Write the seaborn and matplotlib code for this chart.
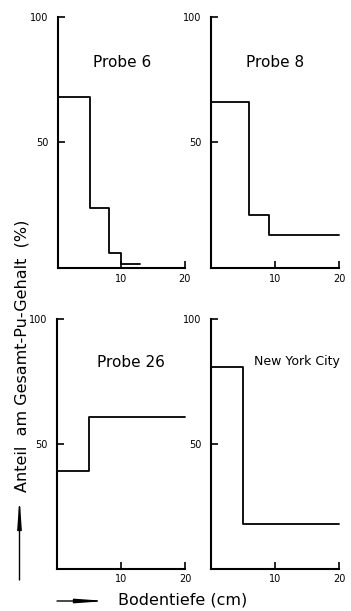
import matplotlib
matplotlib.use("Agg")
import matplotlib.pyplot as plt
import seaborn as sns
import pandas as pd

# --- Daten: Stufenprofile (Tiefe in cm, Anteil in %) ---
probe6_edges = [0, 5, 8, 10, 13]
probe6_vals = [68, 24, 6, 1.5]

probe8_edges = [0, 6, 9, 20]
probe8_vals = [66, 21, 13]

probe26_edges = [0, 5, 20]
probe26_vals = [39, 61]

nyc_edges = [0, 5, 20]
nyc_vals = [81, 18]

panel_names = ["Probe 6", "Probe 8", "Probe 26", "New York City"]
y_ticks = [50, 100]
x_ticks = [10, 20]

sns.set_style("ticks")
plt.rcParams['font.family'] = ['DejaVu Sans']
plt.rcParams['text.color'] = 'black'
plt.rcParams['xtick.color'] = 'black'
plt.rcParams['ytick.color'] = 'black'
plt.rcParams['axes.edgecolor'] = 'black'

fig = plt.figure(figsize=(3.51, 6.11), dpi=100)

# Achsenpositionen (figure fraction)
positions = [
    [0.165, 0.5614, 0.3618, 0.4108],
    [0.6011, 0.5614, 0.3647, 0.4108],
    [0.1638, 0.0692, 0.3632, 0.4082],
    [0.6011, 0.0692, 0.3647, 0.4082],
]
title_pos = [(0.504, 0.817, 11), (0.50, 0.817, 11),
             (0.576, 0.825, 11), (0.672, 0.83, 9)]

profiles = [(probe6_edges, probe6_vals), (probe8_edges, probe8_vals),
            (probe26_edges, probe26_vals), (nyc_edges, nyc_vals)]

for pos, (edges, vals), name, (tx, ty, fs) in zip(positions, profiles, panel_names, title_pos):
    ax = fig.add_axes(pos)
    df = pd.DataFrame({"tiefe": edges, "anteil": list(vals) + [vals[-1]]})
    sns.lineplot(data=df, x="tiefe", y="anteil", ax=ax, color="black",
                 linewidth=1.3, drawstyle="steps-post", estimator=None,
                 clip_on=False)
    ax.set_xlim(0, 20)
    ax.set_ylim(0, 100)
    ax.set_xticks(x_ticks)
    ax.set_yticks(y_ticks)
    ax.set_xlabel("")
    ax.set_ylabel("")
    sns.despine(ax=ax)
    for s in ["left", "bottom"]:
        ax.spines[s].set_linewidth(1.5)
    ax.tick_params(axis="y", direction="in", length=5, width=1.2,
                   labelsize=7, pad=7)
    ax.tick_params(axis="x", direction="in", length=5, width=1.2,
                   labelsize=7, pad=4)
    ax.text(tx, ty, name, transform=ax.transAxes, ha="center", va="center",
            fontsize=fs)

# Achsenbeschriftungen mit Pfeilen
fig.text(22 / 351, 1 - 356 / 611, "Anteil  am Gesamt-Pu-Gehalt  (%)",
         rotation=90, ha="center", va="center", fontsize=11.5)
fig.text(118 / 351, 1 - 600 / 611, "Bodentiefe (cm)",
         ha="left", va="center", fontsize=11.5)

arrow = dict(arrowstyle="-|>,head_length=1.7,head_width=0.12",
             color="black", lw=1.0, mutation_scale=10, shrinkA=0, shrinkB=0)
fig.add_artist(matplotlib.patches.FancyArrowPatch(
    (19.5 / 351, 1 - 580 / 611), (19.5 / 351, 1 - 497 / 611),
    transform=fig.transFigure, **arrow))
fig.add_artist(matplotlib.patches.FancyArrowPatch(
    (57 / 351, 1 - 601 / 611), (107 / 351, 1 - 601 / 611),
    transform=fig.transFigure, **arrow))

fig.savefig("out.png", dpi=100)
